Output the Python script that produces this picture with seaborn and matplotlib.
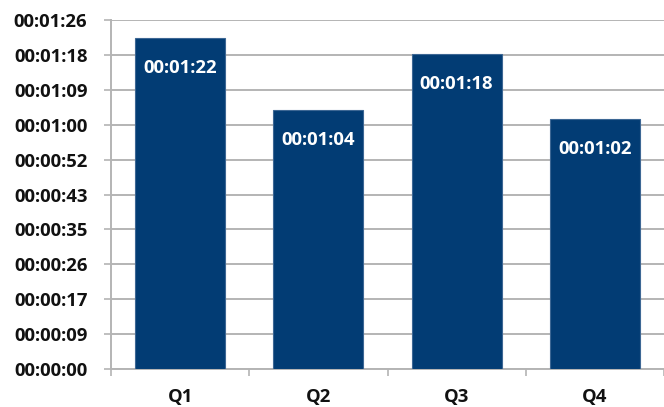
import matplotlib
matplotlib.use("Agg")
import matplotlib.pyplot as plt
from matplotlib.ticker import FixedLocator, FuncFormatter
import seaborn as sns
import pandas as pd

# Average duration per quarter, in seconds
quarters = ["Q1", "Q2", "Q3", "Q4"]
seconds = [82, 64, 78, 62]

# Axis steps of 0.0001 day (8.64 s), as spreadsheet time axes use
tick_step = 8.64
tick_count = 11

bar_color = "#023c74"
grid_color = "#b4b4b4"


def hms(value, _pos=None):
    total = int(round(value))
    h, rem = divmod(total, 3600)
    m, s = divmod(rem, 60)
    return f"{h:02d}:{m:02d}:{s:02d}"


df = pd.DataFrame({"quarter": quarters, "seconds": seconds})

sns.set_theme(style="white")
plt.rcParams["font.family"] = ["Open Sans", "DejaVu Sans"]
plt.rcParams["font.weight"] = "bold"

fig = plt.figure(figsize=(6.64, 4.07), dpi=100)
ax = fig.add_axes([111 / 664, 1 - 369 / 407, 1 - 111 / 664, (369 - 20) / 407])

sns.barplot(data=df, x="quarter", y="seconds", color=bar_color, width=0.65,
            saturation=1, edgecolor="#3d6794", linewidth=0.8, ax=ax, zorder=3)

yticks = [i * tick_step for i in range(tick_count)]
ax.set_ylim(0, yticks[-1])
ax.set_xlim(-0.5, len(quarters) - 0.5)
ax.yaxis.set_major_locator(FixedLocator(yticks))
ax.yaxis.set_major_formatter(FuncFormatter(hms))
ax.grid(axis="y", color=grid_color, linewidth=1.4, zorder=0)
ax.set_axisbelow(True)

# category boundaries carry the tick marks, labels sit at the centres
ax.xaxis.set_minor_locator(FixedLocator([i - 0.5 for i in range(len(quarters) + 1)]))
ax.tick_params(axis="x", which="minor", length=5, width=1.2, color=grid_color,
               bottom=True)
ax.tick_params(axis="x", which="major", length=0, pad=14, labelsize=13.3,
               labelcolor="#111111")
ax.tick_params(axis="y", which="major", length=5, width=1.2, color=grid_color,
               left=True, pad=12, labelsize=13.3, labelcolor="#111111")

for side in ("top", "right"):
    ax.spines[side].set_visible(False)
for side in ("left", "bottom"):
    ax.spines[side].set_color(grid_color)
    ax.spines[side].set_linewidth(1.4)

ax.set_xlabel("")
ax.set_ylabel("")

for i, v in enumerate(seconds):
    ax.annotate(hms(v), xy=(i, v), xytext=(0, -30), textcoords="offset pixels",
                ha="center", va="center", color="white", fontsize=13.3,
                fontweight="bold", zorder=4)

fig.savefig("out.png", dpi=100)
